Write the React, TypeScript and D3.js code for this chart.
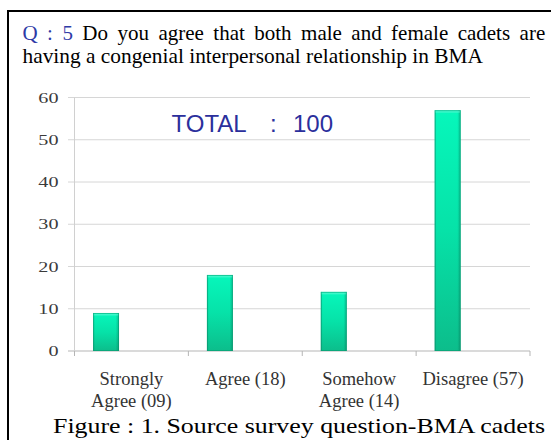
import React from "react";
import * as d3 from "d3";

// Survey responses (count of cadets) per answer
const categories = ["Strongly Agree", "Agree", "Somehow Agree", "Disagree"];
const labelLines = [["Strongly", "Agree (09)"], ["Agree (18)"], ["Somehow", "Agree (14)"], ["Disagree (57)"]];
const counts = [9, 18, 14, 57];
const yTicks = [0, 10, 20, 30, 40, 50, 60];
const totalLabel = ["TOTAL", ":", "100"];

const W = 551;
const H = 440;
const plot = { left: 74.5, right: 530, top: 97.5, bottom: 351 };
const serif = "'Liberation Serif', 'Times New Roman', serif";
const sans = "'Liberation Sans', Arial, sans-serif";

export default function App() {
  const x = d3.scaleBand<string>().domain(categories).range([plot.left, plot.right]).padding(0);
  const y = d3.scaleLinear().domain([0, 60]).range([plot.bottom, plot.top]);
  const bw = x.bandwidth();
  // each bar sits in the left part of its category slot
  const barOffset = bw * 0.163;
  const barWidth = bw * 0.228;

  return (
    <svg
      width={W}
      height={H}
      viewBox={`0 0 ${W} ${H}`}
      style={{ position: "absolute", left: 0, top: 0, display: "block", background: "#fff" }}
    >
      <defs>
        <linearGradient id="barFill" x1="0" y1="0" x2="0" y2="1">
          <stop offset="0" stopColor="#06f7bb" />
          <stop offset="0.5" stopColor="#06e2a8" />
          <stop offset="1" stopColor="#0cbd8b" />
        </linearGradient>
        <linearGradient id="barShade" x1="0" y1="0" x2="1" y2="0">
          <stop offset="0" stopColor="#04644a" stopOpacity="0.3" />
          <stop offset="0.07" stopColor="#04644a" stopOpacity="0" />
          <stop offset="0.87" stopColor="#04644a" stopOpacity="0" />
          <stop offset="1" stopColor="#04644a" stopOpacity="0.35" />
        </linearGradient>
      </defs>

      {/* outer frame */}
      <rect x={8} y={11} width={W + 10} height={H + 10} fill="none" stroke="#000" strokeWidth={2} />

      {/* question text, justified first line */}
      <text x={22.5} y={40} fontFamily={serif} fontSize={21} fill="#000" style={{ wordSpacing: "4.2px" }}>
        <tspan fill="#2e3aa6">Q : 5</tspan> Do you agree that both male and female cadets are
      </text>
      <text x={22.5} y={63} fontFamily={serif} fontSize={21} fill="#000" textLength={460.5} lengthAdjust="spacingAndGlyphs">
        having a congenial interpersonal relationship in BMA
      </text>

      {/* gridlines and y ticks */}
      {yTicks.map((t) => (
        <g key={t}>
          <line
            x1={plot.left - 6.5}
            x2={plot.right}
            y1={y(t)}
            y2={y(t)}
            stroke={t === 0 ? "#b5b5b5" : "#d6d6d6"}
            strokeWidth={1}
          />
          <g transform={`translate(58.5, ${y(t) + 5.2}) scale(1.3, 1)`}>
            <text textAnchor="end" fontFamily={serif} fontSize={15.5} fill="#3a3a3a">
              {t}
            </text>
          </g>
        </g>
      ))}
      {/* value axis line */}
      <line x1={plot.left} x2={plot.left} y1={plot.top} y2={plot.bottom} stroke="#d0d0d0" />

      {/* category tick marks */}
      {[...categories.map((c) => x(c) as number), plot.right].map((px, i) => (
        <line key={i} x1={px} x2={px} y1={plot.bottom} y2={plot.bottom + 5} stroke="#b5b5b5" />
      ))}

      {/* bars */}
      {categories.map((c, i) => {
        const bx = (x(c) as number) + barOffset;
        const by = y(counts[i]);
        const bh = y(0) - by;
        return (
          <g key={c}>
            <rect x={bx} y={by} width={barWidth} height={bh} fill="url(#barFill)" />
            <rect x={bx} y={by} width={barWidth} height={bh} fill="url(#barShade)" />
            <rect x={bx + 0.5} y={by + 0.5} width={barWidth - 1} height={2} fill="#5ffad3" opacity={0.6} />
            <rect x={bx + 0.5} y={by + 0.5} width={barWidth - 1} height={bh - 1} fill="none" stroke="#0a8f68" strokeOpacity={0.45} />
          </g>
        );
      })}

      {/* category labels */}
      {categories.map((c, i) => {
        const cx = (x(c) as number) + bw / 2;
        return (
          <text key={c} textAnchor="middle" fontFamily={serif} fontSize={18.5} fill="#333">
            {labelLines[i].map((ln, j) => (
              <tspan key={j} x={cx} y={385 + j * 22}>
                {ln}
              </tspan>
            ))}
          </text>
        );
      })}

      {/* total annotation */}
      <text y={131.5} fontFamily={sans} fontSize={24} fill="#2b2f9c">
        <tspan x={171.5}>{totalLabel[0]}</tspan>
        <tspan x={270}>{totalLabel[1]}</tspan>
        <tspan x={293}>{totalLabel[2]}</tspan>
      </text>

      {/* caption */}
      <text x={53} y={433} fontFamily={serif} fontSize={21.5} fill="#000" textLength={492} lengthAdjust="spacingAndGlyphs">
        Figure : 1. Source survey question-BMA cadets
      </text>
    </svg>
  );
}
